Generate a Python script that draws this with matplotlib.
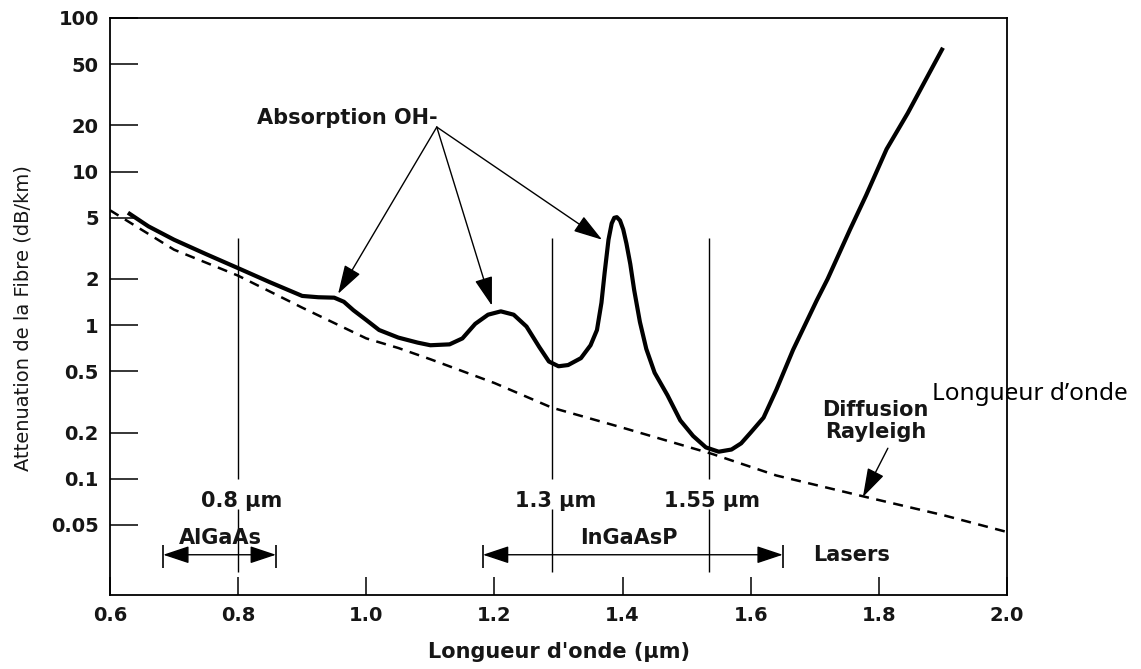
import matplotlib

matplotlib.use("Agg")
import matplotlib.pyplot as plt
from matplotlib.ticker import NullLocator


# fibre attenuation (solid curve)
wavelength = [0.628, 0.66, 0.70, 0.75, 0.80, 0.85, 0.90, 0.925, 0.95, 0.965,
              0.98, 1.00, 1.02, 1.05, 1.08, 1.10, 1.13, 1.15, 1.17, 1.19,
              1.21, 1.23, 1.25, 1.27, 1.285, 1.30, 1.315, 1.335, 1.35, 1.36,
              1.367, 1.372, 1.378, 1.383, 1.387, 1.391, 1.396, 1.401, 1.406, 1.412,
              1.418, 1.427, 1.437, 1.45, 1.47, 1.49, 1.51, 1.53, 1.55, 1.57,
              1.585, 1.60, 1.62, 1.64, 1.666, 1.703, 1.72, 1.755, 1.78, 1.812,
              1.845, 1.875, 1.90]
attenuation = [5.4, 4.4, 3.6, 2.9, 2.35, 1.9, 1.55, 1.52, 1.51, 1.42,
               1.25, 1.08, 0.93, 0.83, 0.77, 0.74, 0.75, 0.82, 1.02, 1.17,
               1.23, 1.17, 0.98, 0.72, 0.58, 0.54, 0.55, 0.61, 0.74, 0.93,
               1.4, 2.2, 3.6, 4.6, 5.0, 5.05, 4.8, 4.2, 3.4, 2.5,
               1.7, 1.05, 0.7, 0.49, 0.35, 0.24, 0.19, 0.16, 0.15, 0.155,
               0.17, 0.20, 0.25, 0.38, 0.69, 1.45, 2.0, 4.2, 7.0, 14.0,
               24, 41, 64]

# Rayleigh scattering (dashed curve)
rayleigh_wl = [0.60, 0.70, 0.80, 0.90, 1.00, 1.05, 1.10, 1.20, 1.29, 1.40,
               1.54, 1.64, 1.78, 1.90, 2.00]
rayleigh_att = [5.6, 3.1, 2.1, 1.3, 0.82, 0.71, 0.60, 0.42, 0.29, 0.215,
                0.145, 0.105, 0.076, 0.058, 0.045]

# transmission windows
window_wl = [0.8, 1.29, 1.535]
window_labels = ["0.8 µm", "1.3 µm", "1.55 µm"]

# source ranges
algaas_range = (0.683, 0.859)
ingaasp_range = (1.182, 1.650)

# OH- absorption peaks pointed at
oh_peaks_wl = [0.956, 1.196, 1.368]
oh_peaks_att = [1.60, 1.34, 3.6]

x_ticks = [0.6, 0.8, 1.0, 1.2, 1.4, 1.6, 1.8, 2.0]
y_ticks = [0.05, 0.1, 0.2, 0.5, 1, 2, 5, 10, 20, 50, 100]
y_tick_labels = ["0.05", "0.1", "0.2", "0.5", "1", "2", "5", "10", "20", "50", "100"]

BOLD = {"family": "DejaVu Sans", "weight": "bold", "size": 15, "color": "#161616"}
HEAD = "-|>,head_length=0.9,head_width=0.28"


def draw_range(ax, lo, hi, y):
    ax.annotate("", xy=(lo, y), xytext=(hi, y),
                arrowprops={"arrowstyle": "<|-|>,head_length=0.9,head_width=0.3",
                            "color": "black", "lw": 1.0, "shrinkA": 0, "shrinkB": 0,
                            "mutation_scale": 18})
    ax.vlines([lo, hi], 0.0264, 0.0372, color="black", lw=1.2)


def main() -> None:
    fig = plt.figure(figsize=(11.41, 6.69), dpi=100)
    ax = fig.add_axes([0.0964, 0.1106, 0.7862, 0.8625])

    ax.plot(wavelength, attenuation, color="black", lw=3.0,
            solid_joinstyle="round", solid_capstyle="butt")
    ax.plot(rayleigh_wl, rayleigh_att, color="black", lw=1.8, linestyle=(0, (4, 3)))

    ax.set_yscale("log")
    ax.set_xlim(0.6, 2.0)
    ax.set_ylim(0.0175, 100)
    ax.set_xticks(x_ticks)
    ax.set_xticklabels([f"{v:.1f}" for v in x_ticks])
    ax.set_yticks(y_ticks)
    ax.set_yticklabels(y_tick_labels)
    ax.yaxis.set_minor_locator(NullLocator())
    ax.xaxis.set_minor_locator(NullLocator())
    ax.tick_params(axis="y", direction="in", length=20, width=1.1, pad=8,
                   labelsize=14, right=False)
    ax.tick_params(axis="x", direction="in", length=13, width=1.1, pad=8,
                   labelsize=14, top=False)
    for lab in ax.get_xticklabels() + ax.get_yticklabels():
        lab.set_fontweight("bold")
        lab.set_color("#161616")
    for spine in ax.spines.values():
        spine.set_linewidth(1.3)

    ax.set_xlabel("Longueur d'onde (µm)", fontdict={**BOLD, "size": 15}, labelpad=12)
    ax.set_ylabel("Attenuation de la Fibre (dB/km)", fontsize=14, color="#161616")
    ax.yaxis.set_label_coords(-0.086, 0.48)

    # window lines, broken around their labels
    ax.vlines(window_wl, 0.1, 3.7, color="black", lw=1.0)
    ax.vlines(window_wl, 0.0246, 0.064, color="black", lw=1.0)
    for wl, lab in zip(window_wl, window_labels):
        ax.text(wl + 0.005, 0.072, lab, ha="center", va="center", **BOLD)

    draw_range(ax, *algaas_range, 0.032)
    draw_range(ax, *ingaasp_range, 0.032)
    ax.text(0.772, 0.041, "AlGaAs", ha="center", va="center", **BOLD)
    ax.text(1.41, 0.041, "InGaAsP", ha="center", va="center", **BOLD)
    ax.text(1.697, 0.032, "Lasers", ha="left", va="center", **BOLD)

    ax.text(0.829, 22.3, "Absorption OH-", ha="left", va="center", **BOLD)
    for wl, att in zip(oh_peaks_wl, oh_peaks_att):
        ax.annotate("", xy=(wl, att), xytext=(1.110, 19.5),
                    arrowprops={"arrowstyle": HEAD, "color": "black", "lw": 1.0,
                                "shrinkA": 0, "shrinkB": 0, "mutation_scale": 20})

    ax.text(1.795, 0.237, "Diffusion\nRayleigh", ha="center", va="center",
            linespacing=1.15, **BOLD)
    ax.annotate("", xy=(1.775, 0.076), xytext=(1.814, 0.158),
                arrowprops={"arrowstyle": HEAD, "color": "black", "lw": 1.0,
                            "shrinkA": 0, "shrinkB": 0, "mutation_scale": 20})

    ax.text(1.883, 0.356, "Longueur d’onde", ha="left", va="center",
            family="Noto Sans", fontsize=17.5, color="black", clip_on=False)

    fig.savefig("out.png", dpi=100)
    plt.close(fig)


if __name__ == "__main__":
    main()
